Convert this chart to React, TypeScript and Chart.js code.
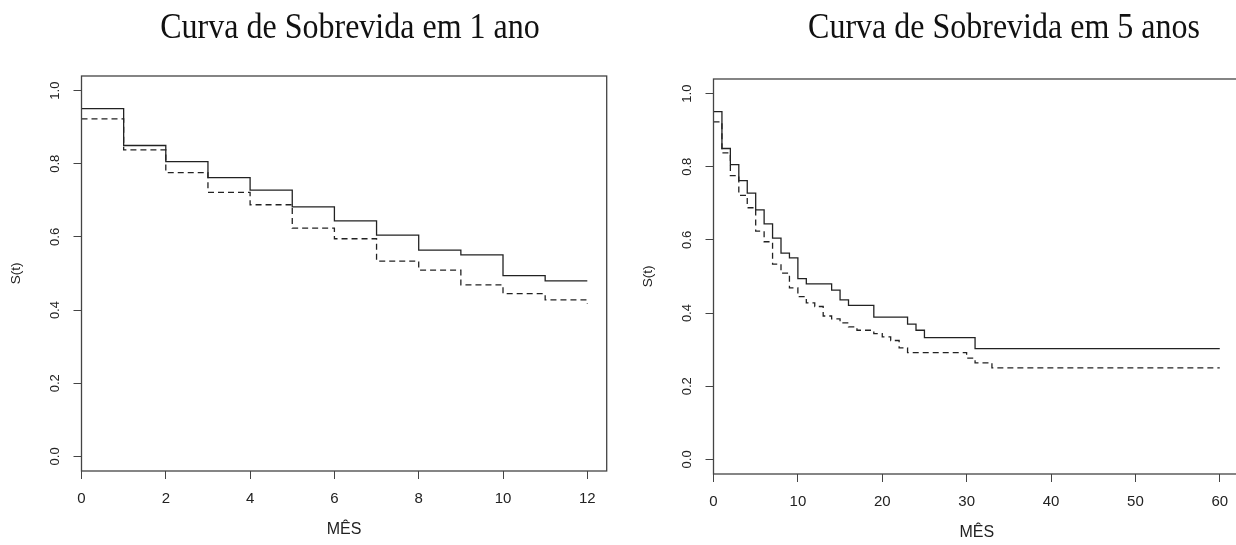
import { useEffect, useRef } from "react";
import { Chart, registerables } from "chart.js";

Chart.register(...registerables);

// ---- Data ----
const titleLeft = "Curva de Sobrevida em 1 ano";
const titleRight = "Curva de Sobrevida em 5 anos";
const xAxisTitle = "MÊS";
const yAxisTitle = "S(t)";

// solid curve: month at which each level starts, and the level
const solidTimes = [0, 1, 2, 3, 4, 5, 6, 7, 8, 9, 10, 11, 14, 15, 16, 19, 23, 24, 25, 31];
const solidSurv = [0.951, 0.85, 0.806, 0.762, 0.728, 0.682, 0.644, 0.605, 0.564, 0.551, 0.494, 0.48, 0.463, 0.436, 0.421, 0.389, 0.37, 0.353, 0.333, 0.303];

// dashed curve
const dashedTimes = [0, 1, 2, 3, 4, 5, 6, 7, 8, 9, 10, 11, 12, 13, 14, 15, 16, 17, 19, 20, 21, 22, 23, 30, 31, 33];
const dashedSurv = [0.923, 0.838, 0.776, 0.722, 0.688, 0.624, 0.595, 0.534, 0.509, 0.469, 0.445, 0.428, 0.418, 0.392, 0.384, 0.373, 0.362, 0.353, 0.344, 0.335, 0.325, 0.305, 0.292, 0.277, 0.264, 0.25];

const yTicks = [0, 0.2, 0.4, 0.6, 0.8, 1.0];
const xTicksLeft = [0, 2, 4, 6, 8, 10, 12];
const xTicksRight = [0, 10, 20, 30, 40, 50, 60];
const endLeft = 12;
const endRight = 60;

// ---- helpers ----
function stepPoints(times: number[], values: number[], tEnd: number) {
  const pts: { x: number; y: number }[] = [];
  let last = values[0];
  for (let i = 0; i < times.length; i++) {
    if (times[i] > tEnd) break;
    pts.push({ x: times[i], y: values[i] });
    last = values[i];
  }
  if (pts[pts.length - 1].x < tEnd) pts.push({ x: tEnd, y: last });
  return pts;
}

const SANS = "'Liberation Sans', Arial, Helvetica, sans-serif";
const INK = "#222";
const AXIS = "#444";

const boxPlugin = {
  id: "rbox",
  afterDatasetsDraw(chart: any) {
    const { ctx, chartArea } = chart;
    const { left, top, right, bottom } = chartArea;
    ctx.save();
    ctx.strokeStyle = AXIS;
    ctx.lineWidth = 1.3;
    ctx.strokeRect(left, top, right - left, bottom - top);
    ctx.restore();
  },
};

function makeConfig(tEnd: number, xMax: number, xTicks: number[], rightPad: number) {
  return {
    type: "line" as const,
    data: {
      datasets: [
        {
          data: stepPoints(solidTimes, solidSurv, tEnd),
          borderColor: INK,
          borderWidth: 1.3,
          pointRadius: 0,
          stepped: "before" as const,
          fill: false,
        },
        {
          data: stepPoints(dashedTimes, dashedSurv, tEnd),
          borderColor: INK,
          borderWidth: 1.3,
          borderDash: [6, 4],
          pointRadius: 0,
          stepped: "before" as const,
          fill: false,
        },
      ],
    },
    options: {
      responsive: false,
      animation: false as const,
      events: [],
      layout: { padding: { top: 76, right: rightPad, left: 0, bottom: 0 } },
      plugins: { legend: { display: false }, tooltip: { enabled: false }, title: { display: false } },
      scales: {
        x: {
          type: "linear" as const,
          min: 0,
          max: xMax,
          afterBuildTicks: (s: any) => {
            s.ticks = xTicks.map((v) => ({ value: v }));
          },
          afterFit: (s: any) => {
            s.height = 74;
          },
          border: { display: false },
          grid: { display: true, drawOnChartArea: false, drawTicks: true, tickLength: 8, color: AXIS, lineWidth: 1 },
          ticks: {
            autoSkip: false,
            maxRotation: 0,
            minRotation: 0,
            padding: 11,
            color: INK,
            font: { family: SANS, size: 15 },
            callback: (v: any) => String(v),
          },
          title: {
            display: true,
            text: xAxisTitle,
            color: INK,
            font: { family: SANS, size: 16 },
            padding: { top: 0, bottom: 6 },
          },
        },
        y: {
          type: "linear" as const,
          min: -0.04,
          max: 1.04,
          afterBuildTicks: (s: any) => {
            s.ticks = yTicks.map((v) => ({ value: v }));
          },
          afterFit: (s: any) => {
            s.width = 81.5;
          },
          border: { display: false },
          grid: { display: true, drawOnChartArea: false, drawTicks: true, tickLength: 8, color: AXIS, lineWidth: 1 },
          ticks: {
            autoSkip: false,
            minRotation: 90,
            maxRotation: 90,
            crossAlign: "center" as const,
            padding: 9.5,
            color: INK,
            font: { family: SANS, size: 13 },
            callback: (v: any) => Number(v).toFixed(1),
          },
          title: {
            display: true,
            text: yAxisTitle,
            color: INK,
            font: { family: SANS, size: 13.5 },
            padding: { top: 8, bottom: 0 },
          },
        },
      },
    },
    plugins: [boxPlugin],
  };
}

function SurvChart(props: { left: number; top: number; width: number; tEnd: number; xMax: number; xTicks: number[]; rightPad: number }) {
  const ref = useRef<HTMLCanvasElement | null>(null);
  useEffect(() => {
    if (!ref.current) return;
    const chart = new Chart(ref.current, makeConfig(props.tEnd, props.xMax, props.xTicks, props.rightPad) as any);
    return () => chart.destroy();
  }, []);
  return (
    <canvas
      ref={ref}
      width={props.width}
      height={545}
      style={{ position: "absolute", left: props.left, top: props.top, width: props.width, height: 545 }}
    />
  );
}

const titleStyle = (cx: number): any => ({
  position: "absolute",
  left: cx,
  top: 10,
  transform: "translateX(-50%) scaleY(1.1)",
  whiteSpace: "nowrap",
  fontFamily: "'Liberation Serif', 'Times New Roman', serif",
  fontSize: 32,
  lineHeight: "32px",
  color: "#111",
});

export default function App() {
  return (
    <div style={{ position: "fixed", left: 0, top: 0, width: 1236, height: 545, overflow: "hidden", background: "#fff" }}>
      <SurvChart left={0} top={0} width={618} tEnd={endLeft} xMax={12.46} xTicks={xTicksLeft} rightPad={11.3} />
      <SurvChart left={632} top={3} width={626} tEnd={endRight} xMax={62.4} xTicks={xTicksRight} rightPad={18} />
      <div style={titleStyle(350)}>{titleLeft}</div>
      <div style={titleStyle(1004)}>{titleRight}</div>
    </div>
  );
}
